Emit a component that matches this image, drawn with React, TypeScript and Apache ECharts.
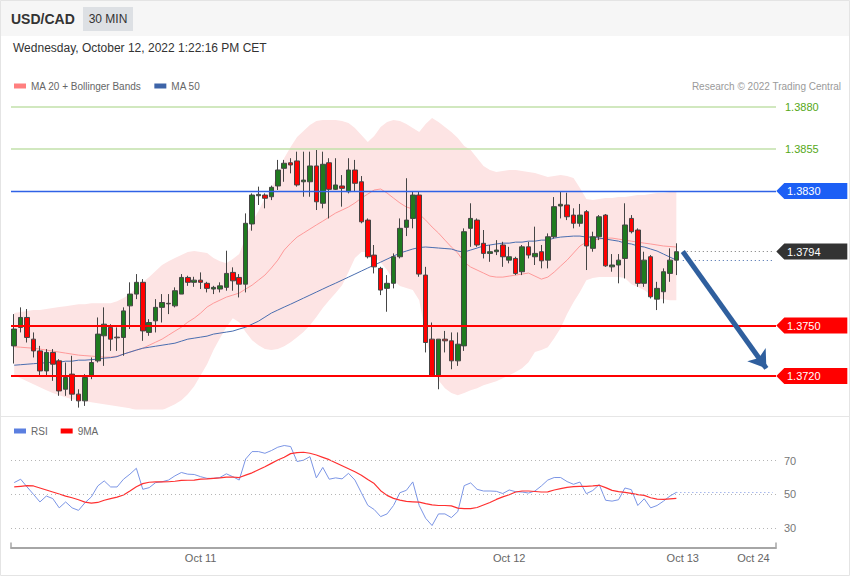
import React, { useEffect, useRef } from "react";
import * as echarts from "echarts";

// [open, close, low, high]
const candles: number[][] = [
  [1.37379, 1.37479, 1.37274, 1.37568], [1.37489, 1.37548, 1.37459, 1.37608], [1.37548, 1.37429, 1.37399, 1.37598],
  [1.37419, 1.37349, 1.3731, 1.37459], [1.37349, 1.3723, 1.37201, 1.37379], [1.3723, 1.3734, 1.37201, 1.3736],
  [1.3734, 1.3727, 1.37171, 1.3736], [1.3729, 1.37111, 1.37082, 1.373], [1.37121, 1.37191, 1.37082, 1.3728],
  [1.37211, 1.37092, 1.37052, 1.3732], [1.37092, 1.37052, 1.37012, 1.37121], [1.37052, 1.37191, 1.37022, 1.37211],
  [1.37201, 1.3728, 1.37181, 1.3731], [1.3729, 1.37449, 1.3728, 1.37548], [1.37439, 1.37508, 1.3726, 1.37608],
  [1.37489, 1.37419, 1.37349, 1.37508], [1.37431, 1.37427, 1.37349, 1.37489], [1.37429, 1.37587, 1.3732, 1.37608],
  [1.37617, 1.37687, 1.37479, 1.37757], [1.37687, 1.37757, 1.37657, 1.37806], [1.37757, 1.37468, 1.37409, 1.37776],
  [1.37459, 1.37518, 1.37439, 1.37538], [1.37528, 1.37608, 1.37459, 1.37657], [1.37608, 1.37637, 1.37518, 1.37687],
  [1.37632, 1.37629, 1.37568, 1.37687], [1.37617, 1.37707, 1.37608, 1.37727], [1.37687, 1.37786, 1.37687, 1.37806],
  [1.37786, 1.37757, 1.37736, 1.37796], [1.37757, 1.3777, 1.3773, 1.3779], [1.3777, 1.37757, 1.37717, 1.37816],
  [1.37751, 1.37721, 1.37697, 1.3776], [1.37717, 1.37727, 1.37687, 1.37736], [1.37717, 1.37736, 1.37697, 1.37757],
  [1.37727, 1.3781, 1.37707, 1.37945], [1.37816, 1.37766, 1.37707, 1.37846], [1.37786, 1.37746, 1.37667, 1.37806],
  [1.37746, 1.38108, 1.37697, 1.38167], [1.38104, 1.38276, 1.38064, 1.38286], [1.38272, 1.3828, 1.38217, 1.38326],
  [1.38276, 1.38257, 1.38197, 1.38286], [1.38266, 1.38322, 1.38246, 1.38332], [1.3833, 1.38425, 1.38306, 1.38485],
  [1.38435, 1.38465, 1.38355, 1.38485], [1.38468, 1.38455, 1.38405, 1.38495], [1.38479, 1.38336, 1.38326, 1.38534],
  [1.38355, 1.38365, 1.38266, 1.38534], [1.38355, 1.38449, 1.38266, 1.38534], [1.38449, 1.38236, 1.38187, 1.38544],
  [1.38227, 1.38459, 1.38197, 1.38534], [1.38468, 1.3831, 1.38137, 1.38495], [1.3831, 1.38336, 1.38306, 1.38495],
  [1.3833, 1.38316, 1.38207, 1.38395], [1.38296, 1.38425, 1.38286, 1.38495], [1.38425, 1.38346, 1.38296, 1.38485],
  [1.38355, 1.38117, 1.38108, 1.38389], [1.38127, 1.37909, 1.37899, 1.38137], [1.37919, 1.37849, 1.3781, 1.37979],
  [1.3784, 1.37711, 1.37681, 1.37849], [1.37721, 1.37751, 1.37582, 1.378], [1.37751, 1.37909, 1.37721, 1.37929],
  [1.37909, 1.38078, 1.37899, 1.38137], [1.38084, 1.38127, 1.38032, 1.38376], [1.38137, 1.38276, 1.38078, 1.38296],
  [1.38276, 1.37806, 1.3779, 1.38296], [1.378, 1.37399, 1.3734, 1.37849], [1.37419, 1.37201, 1.37198, 1.37518],
  [1.37201, 1.37419, 1.37121, 1.37419], [1.37419, 1.37409, 1.3734, 1.37468], [1.37409, 1.3729, 1.3724, 1.37459],
  [1.3729, 1.37389, 1.3726, 1.37459], [1.37379, 1.38058, 1.37349, 1.38078], [1.38078, 1.38137, 1.37968, 1.38227],
  [1.38127, 1.37979, 1.37968, 1.38137], [1.37989, 1.37929, 1.37899, 1.38068], [1.37929, 1.37939, 1.37879, 1.37979],
  [1.37939, 1.37949, 1.37919, 1.38008], [1.37979, 1.37909, 1.37849, 1.37998], [1.37889, 1.37909, 1.3787, 1.37968],
  [1.37899, 1.3781, 1.378, 1.37909], [1.3782, 1.37968, 1.378, 1.37979], [1.37968, 1.37919, 1.37899, 1.37998],
  [1.37909, 1.37929, 1.3786, 1.38088], [1.37939, 1.37885, 1.3784, 1.37979], [1.37889, 1.38028, 1.3784, 1.38048],
  [1.38028, 1.38207, 1.38018, 1.38264], [1.38211, 1.38221, 1.38137, 1.38294], [1.38217, 1.38147, 1.38127, 1.3829],
  [1.38157, 1.38108, 1.38078, 1.38197], [1.38108, 1.38157, 1.38088, 1.38223], [1.38177, 1.37973, 1.3783, 1.38187],
  [1.37959, 1.38028, 1.37939, 1.38058], [1.38028, 1.38147, 1.38008, 1.38157], [1.38157, 1.37855, 1.37849, 1.38163],
  [1.37849, 1.3786, 1.3782, 1.37925], [1.3786, 1.37889, 1.37751, 1.37925], [1.37899, 1.38098, 1.3778, 1.38227],
  [1.38137, 1.38058, 1.38048, 1.38157], [1.38068, 1.37751, 1.3773, 1.38078], [1.37751, 1.37889, 1.3773, 1.37939],
  [1.37909, 1.37671, 1.37661, 1.37919], [1.37657, 1.37721, 1.37592, 1.3776], [1.37701, 1.3782, 1.37632, 1.3784],
  [1.3781, 1.37889, 1.3776, 1.37959], [1.37889, 1.37939, 1.378, 1.37989],
];

const bollUpper = [
  1.37574, 1.3758, 1.37586, 1.37592, 1.37592, 1.37598, 1.37604, 1.3761, 1.37615, 1.37621,
  1.37627, 1.37627, 1.37633, 1.37633, 1.37633, 1.37633, 1.37645, 1.37663, 1.37687, 1.37723,
  1.37758, 1.37788, 1.37824, 1.3786, 1.37883, 1.37901, 1.37919, 1.37937, 1.37943, 1.37937,
  1.37931, 1.37901, 1.37883, 1.37871, 1.37895, 1.37925, 1.38026, 1.38115, 1.38181, 1.38258,
  1.38318, 1.38395, 1.38496, 1.38562, 1.38621, 1.38657, 1.38693, 1.38717, 1.38723, 1.38723,
  1.38723, 1.38717, 1.38705, 1.38675, 1.38633, 1.38592, 1.38627, 1.38681, 1.38711, 1.38723,
  1.38717, 1.38699, 1.38675, 1.38651, 1.38699, 1.38735, 1.38711, 1.38681, 1.38651, 1.38615,
  1.38568, 1.38544, 1.38496, 1.38449, 1.38425, 1.38413, 1.38419, 1.38425, 1.38425, 1.38419,
  1.38413, 1.38407, 1.38395, 1.38383, 1.38389, 1.38395, 1.38389, 1.38377, 1.38318, 1.38252,
  1.38246, 1.38252, 1.38258, 1.38258, 1.38264, 1.38264, 1.3827, 1.38276, 1.38276, 1.38282,
  1.38288, 1.38288, 1.38294, 1.38294,
];

const bollLower = [
  1.37205, 1.37187, 1.37169, 1.37151, 1.37133, 1.37115, 1.37098, 1.37086, 1.37074, 1.37062,
  1.37056, 1.3705, 1.37044, 1.37038, 1.37032, 1.37026, 1.3702, 1.37014, 1.37008, 1.36996,
  1.3699, 1.3699, 1.3699, 1.36996, 1.37014, 1.37032, 1.37056, 1.37092, 1.37139, 1.37205,
  1.3727, 1.37354, 1.37425, 1.3749, 1.37544, 1.3752, 1.37461, 1.37413, 1.37383, 1.3736,
  1.37354, 1.3736, 1.37377, 1.37401, 1.37431, 1.37461, 1.37502, 1.3755, 1.37604, 1.37651,
  1.37693, 1.3774, 1.37818, 1.37901, 1.37937, 1.37937, 1.37907, 1.37877, 1.3783, 1.3777,
  1.37735, 1.37723, 1.37711, 1.37651, 1.37443, 1.37264, 1.37175, 1.37127, 1.37098, 1.37086,
  1.37098, 1.37115, 1.37127, 1.37145, 1.37157, 1.37169, 1.37187, 1.37205, 1.37223, 1.37246,
  1.37282, 1.37342, 1.37354, 1.37371, 1.37425, 1.37485, 1.37568, 1.37639, 1.37699, 1.3777,
  1.37782, 1.37788, 1.37788, 1.37788, 1.37788, 1.37782, 1.37746, 1.37729, 1.37711, 1.37681,
  1.37663, 1.37657, 1.37651, 1.37651,
];

const ma20 = [
  1.37374, 1.37371, 1.37368, 1.37365, 1.3736, 1.37354, 1.37348, 1.37342, 1.37336, 1.3733,
  1.37324, 1.37321, 1.37318, 1.37315, 1.37312, 1.37312, 1.37318, 1.3733, 1.37342, 1.37354,
  1.37365, 1.37383, 1.37401, 1.37419, 1.37443, 1.37467, 1.3749, 1.3752, 1.37544, 1.37574,
  1.3761, 1.37633, 1.37651, 1.37669, 1.37681, 1.37693, 1.37717, 1.3774, 1.3777, 1.378,
  1.37842, 1.37889, 1.37949, 1.3799, 1.38026, 1.3805, 1.38074, 1.38098, 1.38121, 1.38145,
  1.38169, 1.38187, 1.38205, 1.38229, 1.38258, 1.38282, 1.38306, 1.38312, 1.38288, 1.38258,
  1.38229, 1.38205, 1.38193, 1.38163, 1.38127, 1.38086, 1.3805, 1.38008, 1.37967, 1.37931,
  1.37877, 1.37848, 1.3783, 1.37812, 1.37794, 1.37788, 1.37788, 1.37794, 1.378, 1.37806,
  1.37812, 1.37794, 1.37776, 1.37788, 1.37818, 1.37854, 1.37889, 1.37931, 1.37973, 1.37996,
  1.38008, 1.38014, 1.3802, 1.3802, 1.38014, 1.38008, 1.38002, 1.37996, 1.3799, 1.37985,
  1.37979, 1.37973, 1.3797, 1.37967,
];

const ma50 = [
  1.37264, 1.37267, 1.3727, 1.37273, 1.37276, 1.37279, 1.37282, 1.37282, 1.37288, 1.37288,
  1.37294, 1.37294, 1.37297, 1.373, 1.37306, 1.37309, 1.37315, 1.3733, 1.37342, 1.37354,
  1.37365, 1.37371, 1.37377, 1.37383, 1.37389, 1.37395, 1.37407, 1.37419, 1.37425, 1.37431,
  1.37437, 1.37449, 1.37455, 1.37461, 1.37467, 1.37479, 1.3749, 1.37508, 1.37526, 1.3755,
  1.37574, 1.37592, 1.3761, 1.37627, 1.37645, 1.37663, 1.37681, 1.37699, 1.37717, 1.37735,
  1.37752, 1.3777, 1.37788, 1.37806, 1.37824, 1.37842, 1.3786, 1.37877, 1.37895, 1.37913,
  1.37931, 1.37943, 1.37955, 1.37964, 1.37967, 1.37964, 1.37961, 1.37958, 1.37955, 1.37943,
  1.37937, 1.37949, 1.37961, 1.37973, 1.37979, 1.37985, 1.3799, 1.3799, 1.37996, 1.37996,
  1.38002, 1.38002, 1.38008, 1.38008, 1.3802, 1.38026, 1.38029, 1.38032, 1.38032, 1.38026,
  1.38026, 1.3802, 1.38014, 1.38008, 1.38002, 1.3799, 1.37985, 1.37973, 1.37967, 1.37955,
  1.37943, 1.37925, 1.37907, 1.37889,
];

const rsi = [
  57, 59, 54.4, 50, 45.5, 49, 47.5, 42, 45.5, 42,
  40.5, 45, 48.5, 55, 58, 54.4, 54.4, 59, 62, 65.5,
  53, 54, 57, 57.5, 58.5, 61, 63, 62, 61.8, 60.5,
  59.5, 59.5, 60, 62.2, 60.5, 58.5, 71, 75.4, 75.4, 74.4,
  76, 78, 79, 78.4, 69.5, 70.3, 72.4, 59.8, 66, 59,
  59.8, 59.2, 62.5, 58.5, 51, 43.5, 41, 36.8, 38.4, 43.4,
  51, 52.4, 57.4, 43.4, 35.8, 31.5, 38.4, 38.4, 36.2, 39.8,
  55.2, 56.8, 53, 52, 52, 51.8, 50.5, 52.6, 51.6, 51.4,
  50.8, 52, 55, 58.5, 60, 60, 57.6, 56, 57.3, 50.4,
  52.3, 55.8, 46.5, 46, 46.8, 53.8, 52.8, 43.4, 47.4, 42,
  43.4, 46, 49, 51.2,
];

const rsi9ma = [
  54.4, 54.8, 55.2, 55, 53.8, 52.6, 51.4, 50.2, 49, 48,
  46.8, 45.4, 44.8, 45.2, 46.5, 47.5, 48.4, 49.6, 52, 54.5,
  56.4, 57.2, 57.4, 57.4, 57.5, 57.8, 58.3, 58.4, 58.5, 59,
  59.2, 59.5, 59.8, 60.2, 60.3, 60, 61.4, 62.8, 64.6, 66.4,
  68.4, 70.4, 72, 74.2, 74.8, 75, 74.4, 73.4, 72, 70.6,
  68.8, 67, 65.2, 63.4, 61.4, 58.8, 56.4, 52.2, 49.4, 47.6,
  46.6, 45.8, 45.6, 45.4, 44.5, 43.8, 43.4, 43.4, 43.2, 41.8,
  41.5, 41.5, 42.2, 43.7, 45.2, 47, 48.5, 49.8, 51.4, 52,
  52, 51.7, 51.4, 51.5, 52.6, 53.4, 54.2, 54.6, 54.8, 54.8,
  55, 55.4, 54, 52.4, 51.6, 51.2, 50.6, 49.8, 49.4, 48,
  47.2, 47, 47.3, 47.6,
];

const futureSlots = 15;
const xTickLabels: { [k: number]: string } = { 29: "Oct 11", 77: "Oct 12", 104: "Oct 13", 115: "Oct 24" };
const greenLevels = [1.388, 1.3855];
const blueLevel = 1.383;
const redLevels = [1.375, 1.372];
const lastPrice = 1.3794;
const arrowTarget = 1.37245;
const rsiLevels = [70, 50, 30];

const FONT = "'Liberation Sans', Arial, Helvetica, sans-serif";

export default function App() {
  const ref = useRef<HTMLDivElement>(null);
  useEffect(() => {
    document.body.style.margin = "0";
    const chart = echarts.init(ref.current as HTMLDivElement, null, { renderer: "svg" });
    const total = candles.length + futureSlots;
    const cats = Array.from({ length: total }, (_, i) => String(i));
    const lastIdx = total - 1;
    const startIdx = candles.length;
    const bandWidth = bollUpper.map((u, i) => +(u - bollLower[i]).toFixed(5));
    const lastMa50 = ma50[ma50.length - 1];
    const lastRsi = rsi[rsi.length - 1];

    const tag = (v: number, color: string) => ({
      name: v.toFixed(4),
      coord: [lastIdx, v],
      itemStyle: { color },
    });

    const option: any = {
      animation: false,
      backgroundColor: "#ffffff",
      textStyle: { fontFamily: FONT },
      graphic: [
        { type: "rect", shape: { x: 0, y: 0, width: 850, height: 36 }, style: { fill: "#f6f6f6" }, z: -10 },
        { type: "rect", shape: { x: 83, y: 7, width: 50, height: 24 }, style: { fill: "#dde0e4" }, z: -5 },
        { type: "line", shape: { x1: 0, y1: 416.5, x2: 850, y2: 416.5 }, style: { stroke: "#e6e6e6", lineWidth: 1 }, z: -5 },
        { type: "rect", shape: { x: 0.5, y: 0.5, width: 849, height: 575 }, style: { fill: "none", stroke: "#e4e4e4", lineWidth: 1 }, z: -5 },
        { type: "text", x: 11, y: 19, style: { text: "USD/CAD", fill: "#333", fontSize: 14, fontWeight: "bold", fontFamily: FONT, verticalAlign: "middle" } },
        { type: "text", x: 108, y: 19, style: { text: "30 MIN", fill: "#333", fontSize: 12, fontFamily: FONT, align: "center", verticalAlign: "middle" } },
        { type: "text", x: 13, y: 48, style: { text: "Wednesday, October 12, 2022 1:22:16 PM CET", fill: "#333", fontSize: 12, fontFamily: FONT, verticalAlign: "middle" } },
        { type: "text", x: 841, y: 86, style: { text: "Research \u00a9 2022 Trading Central", fill: "#9a9a9a", fontSize: 10, fontFamily: FONT, align: "right", verticalAlign: "middle" } },
      ],
      legend: [
        {
          left: 9, top: 76, itemWidth: 12, itemHeight: 5, itemGap: 13, icon: "rect", selectedMode: false,
          textStyle: { color: "#666", fontSize: 10, fontFamily: FONT },
          data: [
            { name: "MA 20 + Bollinger Bands", itemStyle: { color: "#ff7f7f" } },
            { name: "MA 50", itemStyle: { color: "#3d64a8" } },
          ],
        },
        {
          left: 9, top: 421, itemWidth: 12, itemHeight: 5, itemGap: 13, icon: "rect", selectedMode: false,
          textStyle: { color: "#666", fontSize: 10, fontFamily: FONT },
          data: [
            { name: "RSI", itemStyle: { color: "#5b7fe0" } },
            { name: "9MA", itemStyle: { color: "#ff0000" } },
          ],
        },
      ],
      grid: [
        { left: 11, width: 765, top: 93.5, height: 316.1 },
        { left: 11, width: 765, top: 427, height: 120.6 },
      ],
      xAxis: [
        { type: "category", gridIndex: 0, data: cats, boundaryGap: true, show: false },
        {
          type: "category", gridIndex: 1, data: cats, boundaryGap: true,
          axisLine: { show: true, lineStyle: { color: "#a6a6a6", width: 2 } },
          axisTick: { show: true, inside: true, length: 5, interval: (i: number) => i === 0, lineStyle: { color: "#a6a6a6", width: 1.5 } },
          axisLabel: { interval: 0, formatter: (_v: string, i: number) => xTickLabels[i] || "", color: "#666", fontSize: 11, margin: 5 },
          splitLine: { show: false },
        },
      ],
      yAxis: [
        { type: "value", gridIndex: 0, min: 1.37, max: 1.3888, show: false, splitLine: { show: false } },
        { type: "value", gridIndex: 1, min: 18.4, max: 90, show: false, splitLine: { show: false } },
      ],
      series: [
        {
          name: "bbLower", type: "line", xAxisIndex: 0, yAxisIndex: 0, data: bollLower, stack: "bb",
          symbol: "none", silent: true, lineStyle: { width: 0, opacity: 0 }, z: 1,
        },
        {
          name: "bbBand", type: "line", xAxisIndex: 0, yAxisIndex: 0, data: bandWidth, stack: "bb",
          symbol: "none", silent: true, lineStyle: { width: 0, opacity: 0 },
          areaStyle: { color: "#fde4e4", opacity: 1 }, z: 1,
        },
        {
          name: "MA 20 + Bollinger Bands", type: "line", xAxisIndex: 0, yAxisIndex: 0, data: ma20,
          symbol: "none", silent: true, color: "#ff9a9a", lineStyle: { width: 1, color: "#ff9a9a" }, z: 2,
        },
        {
          name: "MA 50", type: "line", xAxisIndex: 0, yAxisIndex: 0, data: ma50,
          symbol: "none", silent: true, color: "#4a6eb0", lineStyle: { width: 1, color: "#4a6eb0" }, z: 2,
        },
        {
          name: "USD/CAD", type: "candlestick", xAxisIndex: 0, yAxisIndex: 0, data: candles, barWidth: 5,
          itemStyle: { color: "#1f7a1f", color0: "#ff0000", borderColor: "#454545", borderColor0: "#454545", borderWidth: 1 },
          z: 3,
          markLine: {
            silent: true, symbol: ["none", "none"], precision: 5,
            label: { show: false },
            data: [
              ...greenLevels.map((v) => ({
                yAxis: v,
                lineStyle: { color: "#c2e0aa", width: 1.5, type: "solid" },
                label: { show: true, position: "end", distance: 9, formatter: v.toFixed(4), color: "#55a818", fontSize: 11, fontFamily: FONT },
              })),
              { yAxis: blueLevel, lineStyle: { color: "#2f62e6", width: 1.4, type: "solid" } },
              ...redLevels.map((v) => ({ yAxis: v, lineStyle: { color: "#ff0000", width: 2, type: "solid" } })),
              [
                { coord: [startIdx, lastPrice], lineStyle: { color: "#777", width: 1, type: [1, 3] } },
                { coord: [lastIdx, lastPrice] },
              ],
              [
                { coord: [startIdx, lastMa50], lineStyle: { color: "#3d64a8", width: 1, type: [1, 3] } },
                { coord: [lastIdx, lastMa50] },
              ],
              [
                { coord: [startIdx, lastPrice], symbol: "none", lineStyle: { color: "#2f5f9e", width: 5, type: "solid" } },
                { coord: [lastIdx - 1, arrowTarget], symbol: "arrow", symbolSize: 17 },
              ],
            ],
          },
          markPoint: {
            silent: true,
            symbol: "path://M0,8L8,0L71,0L71,16L8,16Z",
            symbolSize: [71, 16],
            symbolKeepAspect: false,
            symbolOffset: [39, 0],
            label: { show: true, position: "inside", formatter: "{b}", color: "#ffffff", fontSize: 11, fontFamily: FONT, offset: [-8, 0] },
            data: [
              tag(blueLevel, "#1c5ff5"),
              tag(lastPrice, "#333333"),
              tag(redLevels[0], "#ff0000"),
              tag(redLevels[1], "#ff0000"),
            ],
          },
        },
        {
          name: "RSI", type: "line", xAxisIndex: 1, yAxisIndex: 1, data: rsi, symbol: "none", silent: true,
          color: "#7b95e5", lineStyle: { width: 1, color: "#7b95e5" }, z: 3,
          markLine: {
            silent: true, symbol: ["none", "none"],
            label: { show: false },
            data: [
              ...rsiLevels.map((v) => ({
                yAxis: v,
                lineStyle: { color: "#b5b5b5", width: 1, type: [1, 3] },
                label: { show: true, position: "end", distance: 8, formatter: String(v), color: "#777", fontSize: 11, fontFamily: FONT },
              })),
              [
                { coord: [candles.length - 1, lastRsi], lineStyle: { color: "#7b95e5", width: 1, type: [1, 3] } },
                { coord: [lastIdx, lastRsi] },
              ],
            ],
          },
        },
        {
          name: "9MA", type: "line", xAxisIndex: 1, yAxisIndex: 1, data: rsi9ma, symbol: "none", silent: true,
          color: "#ff3030", lineStyle: { width: 1.2, color: "#ff3030" }, z: 4,
        },
      ],
    };
    chart.setOption(option);
    return () => chart.dispose();
  }, []);
  return <div ref={ref} style={{ width: 850, height: 576 }} />;
}
